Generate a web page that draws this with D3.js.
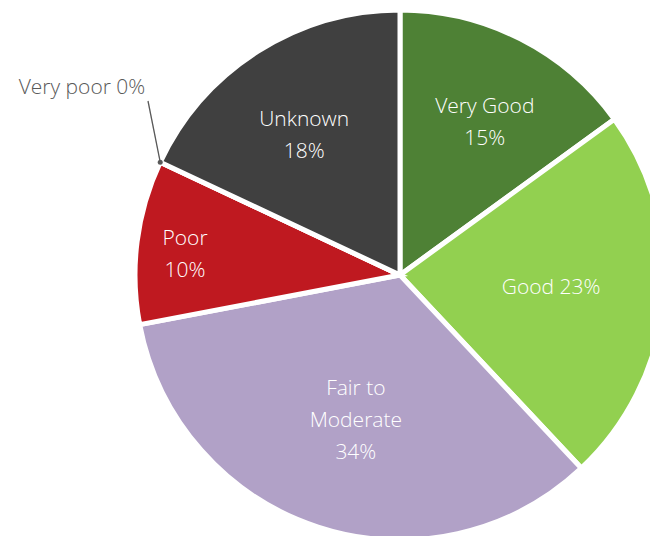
<!DOCTYPE html>
<html>
<head>
<meta charset="utf-8">
<script src="https://cdn.jsdelivr.net/npm/d3@7"></script>
<style>
  html, body { margin: 0; padding: 0; background: #fff; }
  svg { display: block; }
</style>
</head>
<body>
<svg id="chart" width="650" height="536"></svg>
<script>
// Condition categories, their shares (percent) and slice colours
const categories = ["Very Good", "Good", "Fair to Moderate", "Poor", "Very poor", "Unknown"];
const values = [15, 23, 34, 10, 0, 18];
const colors = ["#4E8135", "#92D050", "#B1A1C7", "#BF1920", "#7F7F7F", "#404040"];
// How each label is broken into lines ("{v}" is the percentage)
const labelLines = [
  ["Very Good", "{v}%"],
  ["Good {v}%"],
  ["Fair to", "Moderate", "{v}%"],
  ["Poor", "{v}%"],
  ["Very poor {v}%"],
  ["Unknown", "{v}%"]
];

const width = 650, height = 536;
const cx = 400, cy = 275, radius = 265;
const lineH = 32;
const fontSize = 21;
const font = "'Open Sans', 'Noto Sans', sans-serif";

// Label placement: fraction of the radius and angle shift (degrees) from the slice middle
const labelPlace = [
  { r: 0.66, shift: 2 },
  { r: 0.572, shift: -1 },
  { r: 0.57, shift: -1 },
  { r: 0.815, shift: -1.6 },
  null,
  { r: 0.64, shift: -2 }
];

const svg = d3.select("#chart");
const g = svg.append("g").attr("transform", `translate(${cx},${cy})`);

const data = categories.map((c, i) => ({ name: c, value: values[i], color: colors[i], i }));

const pie = d3.pie().value(d => d.value).sort(null);
const arcs = pie(data);
const arc = d3.arc().innerRadius(0).outerRadius(radius);

g.selectAll("path.slice")
  .data(arcs)
  .join("path")
  .attr("class", "slice")
  .attr("d", arc)
  .attr("fill", d => d.data.color)
  .attr("stroke", "#fff")
  .attr("stroke-width", 5)
  .attr("stroke-linejoin", "miter");

// Inside labels
arcs.forEach((a, i) => {
  const p = labelPlace[i];
  if (!p) return;
  const mid = (a.startAngle + a.endAngle) / 2 + p.shift * Math.PI / 180;
  const rr = radius * p.r;
  const x = rr * Math.sin(mid), y = -rr * Math.cos(mid);
  const lines = labelLines[i].map(s => s.replace("{v}", a.data.value));
  const t = g.append("text")
    .attr("text-anchor", "middle")
    .attr("fill", "#fff")
    .attr("font-family", font)
    .attr("font-weight", 300)
    .attr("font-size", fontSize);
  lines.forEach((s, k) => {
    t.append("tspan")
      .attr("x", x)
      .attr("y", y + (k - (lines.length - 1) / 2) * lineH)
      .attr("dy", "0.35em")
      .text(s);
  });
});

// Outside label with leader line for the zero slice
const zi = values.indexOf(0);
const za = arcs[zi];
const edge = [radius * Math.sin(za.startAngle), -radius * Math.cos(za.startAngle)];
const labelPt = [148 - cx, 101 - cy];
g.append("line")
  .attr("x1", labelPt[0]).attr("y1", labelPt[1])
  .attr("x2", edge[0]).attr("y2", edge[1])
  .attr("stroke", "#595959").attr("stroke-width", 1.3);
g.append("circle")
  .attr("cx", edge[0]).attr("cy", edge[1]).attr("r", 2.5)
  .attr("fill", "#595959");
g.append("text")
  .attr("x", labelPt[0] - 66).attr("y", labelPt[1] - 14)
  .attr("dy", "0.35em")
  .attr("text-anchor", "middle")
  .attr("fill", "#595959")
  .attr("font-family", font)
  .attr("font-weight", 300)
  .attr("font-size", fontSize)
  .text(labelLines[zi][0].replace("{v}", za.data.value));
</script>
</body>
</html>
